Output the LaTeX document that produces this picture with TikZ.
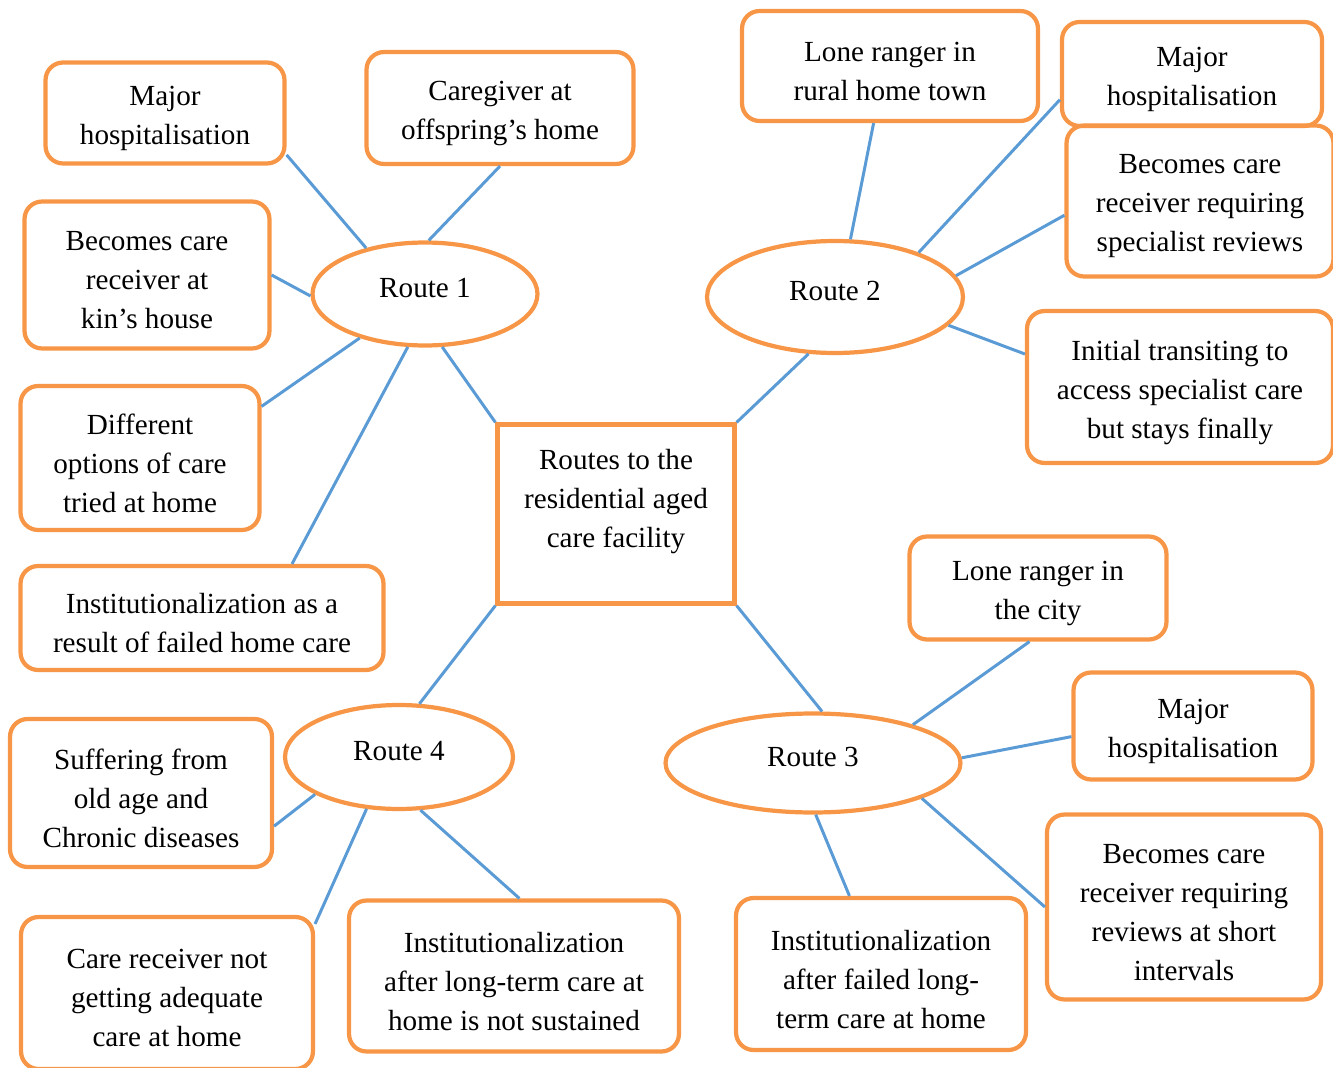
\documentclass[tikz,border=0pt]{standalone}
\usepackage{fontspec}
\setmainfont{Liberation Serif}
\usetikzlibrary{shapes.geometric}
\definecolor{rtorange}{HTML}{F79646}
\definecolor{rtblue}{HTML}{5B9BD5}

\begin{document}
\begin{tikzpicture}[
    x=0.02cm, y=-0.02cm,
    leaf/.style={rectangle, rounded corners=10pt, draw=rtorange, line width=2.4pt,
                 align=center, inner sep=0pt, font=\fontsize{16.6}{22.2}\selectfont,
                 execute at begin node={\vbox\bgroup\vskip6pt},
                 execute at end node={\egroup}},
    route/.style={ellipse, draw=rtorange, line width=2.4pt, inner sep=0pt,
                  text depth=7pt, font=\fontsize{16.6}{22.2}\selectfont},
    hub/.style={rectangle, draw=rtorange, line width=2.4pt, align=center,
                inner sep=0pt, font=\fontsize{16.6}{22.2}\selectfont},
    link/.style={draw=rtblue, line width=1.7pt}
  ]
  \useasboundingbox (0,0) rectangle (1333,1068);

  % ---- Centre ----
  \node[hub, minimum width=4.74cm, minimum height=3.58cm]
    (hub) at (616,514) {Routes to the\\residential aged\\care facility\\[-4pt]};

  % ---- Routes ----
  \node[route, minimum width=4.5cm, minimum height=2.06cm]  (r1) at (425,294) {Route 1};
  \node[route, minimum width=5.12cm, minimum height=2.24cm] (r2) at (835,297) {Route 2};
  \node[route, minimum width=5.9cm, minimum height=1.98cm]  (r3) at (813,763) {Route 3};
  \node[route, minimum width=4.56cm, minimum height=2.08cm] (r4) at (399,757) {Route 4};

  % ============ ROUTE 1 ============
  \node[leaf, minimum width=4.78cm, minimum height=2.02cm]
    (hosp1) at (165,113) {Major\\hospitalisation};
  \node[leaf, minimum width=5.34cm, minimum height=2.24cm]
    (carer) at (500,108) {Caregiver at\\offspring’s home};
  \node[leaf, minimum width=4.9cm, minimum height=2.94cm]
    (kin) at (147,275) {Becomes care\\receiver at\\kin’s house};
  \node[leaf, minimum width=4.78cm, minimum height=2.88cm]
    (options) at (140,458) {Different\\options of care\\tried at home};
  \node[leaf, minimum width=7.26cm, minimum height=2.08cm]
    (failhome) at (202,618) {Institutionalization as a\\result of failed home care};

  % ============ ROUTE 2 ============
  \node[leaf, minimum width=5.92cm, minimum height=2.2cm]
    (rural) at (890,66) {Lone ranger in\\rural home town};
  \node[leaf, minimum width=5.2cm, minimum height=2.08cm]
    (hosp2) at (1192,74) {Major\\hospitalisation};
  \node[leaf, minimum width=5.34cm, minimum height=3.02cm]
    (spec) at (1200,201) {Becomes care\\receiver requiring\\specialist reviews};
  \node[leaf, minimum width=6.12cm, minimum height=3.04cm]
    (transit) at (1180,387) {Initial transiting to\\access specialist care\\but stays finally};

  % ============ ROUTE 3 ============
  \node[leaf, minimum width=5.14cm, minimum height=2.06cm]
    (city) at (1038,588) {Lone ranger in\\the city};
  \node[leaf, minimum width=4.78cm, minimum height=2.14cm]
    (hosp3) at (1193,726) {Major\\hospitalisation};
  \node[leaf, minimum width=5.48cm, minimum height=3.7cm]
    (short) at (1184,907) {Becomes care\\receiver requiring\\reviews at short\\intervals};
  \node[leaf, minimum width=5.8cm, minimum height=3.04cm]
    (failed) at (881,974) {Institutionalization\\after failed long-\\term care at home};

  % ============ ROUTE 4 ============
  \node[leaf, minimum width=5.24cm, minimum height=2.96cm]
    (suffer) at (141,793) {Suffering from\\old age and\\Chronic diseases};
  \node[leaf, minimum width=5.84cm, minimum height=3.04cm]
    (inadeq) at (167,993) {Care receiver not\\getting adequate\\care at home};
  \node[leaf, minimum width=6.6cm, minimum height=3.02cm]
    (notsust) at (514,976) {Institutionalization\\after long-term care at\\home is not sustained};

  % ============ CONNECTORS ============
  \draw[link] (hub.north west) -- (r1.288);
  \draw[link] (hub.north east) -- (r2.245);
  \draw[link] (hub.south east) -- (r3.80);
  \draw[link] (hub.south west) -- (r4.69);

  \draw[link] (hosp1.-19) -- (r1.142);
  \draw[link] (carer.south) -- (r1.86);
  \draw[link] (kin.east) -- (r1.181);
  \draw[link] (options.23) -- (r1.214);
  \draw[link] (failhome.31) -- (r1.252);

  \draw[link] (rural.254) -- (r2.75);
  \draw[link] (hosp2.191) -- (r2.28);
  \draw[link] (spec.186) -- (r2.10);
  \draw[link] (transit.168) -- (r2.346);

  \draw[link] (city.261) -- (r3.21);
  \draw[link] (hosp3.185) -- (r3.2);
  \draw[link] (short.west) -- (r3.342);
  \draw[link] (failed.112) -- (r3.273);

  \draw[link] (suffer.-14) -- (r4.204);
  \draw[link] (inadeq.25) -- (r4.238);
  \draw[link] (notsust.86) -- (r4.292);

\end{tikzpicture}
\end{document}
